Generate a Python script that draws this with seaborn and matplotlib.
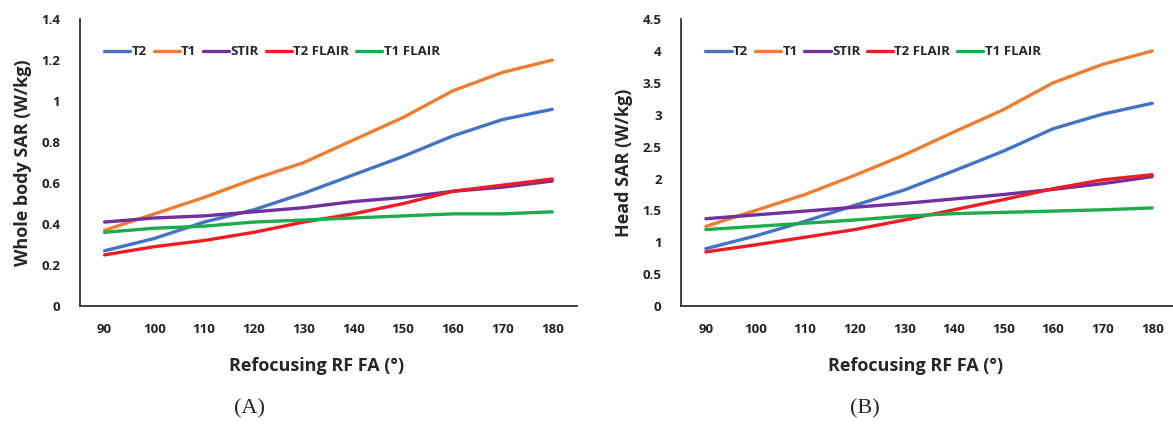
import pandas as pd
import matplotlib.pyplot as plt
import seaborn as sns

# --- 資料 ---
fa = [90, 100, 110, 120, 130, 140, 150, 160, 170, 180]
sequences = ['T2', 'T1', 'STIR', 'T2 FLAIR', 'T1 FLAIR']

wb_t2 = [0.27, 0.33, 0.41, 0.47, 0.55, 0.64, 0.73, 0.83, 0.91, 0.96]
wb_t1 = [0.37, 0.45, 0.53, 0.62, 0.70, 0.81, 0.92, 1.05, 1.14, 1.20]
wb_stir = [0.41, 0.43, 0.44, 0.46, 0.48, 0.51, 0.53, 0.56, 0.58, 0.61]
wb_t2flair = [0.25, 0.29, 0.32, 0.36, 0.41, 0.45, 0.50, 0.56, 0.59, 0.62]
wb_t1flair = [0.36, 0.38, 0.39, 0.41, 0.42, 0.43, 0.44, 0.45, 0.45, 0.46]

head_t2 = [0.90, 1.10, 1.33, 1.58, 1.82, 2.12, 2.43, 2.78, 3.01, 3.18]
head_t1 = [1.25, 1.50, 1.75, 2.05, 2.37, 2.73, 3.08, 3.50, 3.79, 4.00]
head_stir = [1.37, 1.43, 1.49, 1.55, 1.61, 1.68, 1.75, 1.83, 1.92, 2.03]
head_t2flair = [0.85, 0.96, 1.08, 1.20, 1.35, 1.51, 1.67, 1.84, 1.98, 2.06]
head_t1flair = [1.20, 1.25, 1.30, 1.35, 1.41, 1.45, 1.47, 1.49, 1.51, 1.54]

colors = ['#4472C4', '#ED7D31', '#7030A0', '#EE1C25', '#1FAA4B']


def to_long(series_list):
    rows = []
    for name, vals in zip(sequences, series_list):
        for x, v in zip(fa, vals):
            rows.append({'FA': x, 'SAR': v, 'Sequence': name})
    return pd.DataFrame(rows)


df_wb = to_long([wb_t2, wb_t1, wb_stir, wb_t2flair, wb_t1flair])
df_head = to_long([head_t2, head_t1, head_stir, head_t2flair, head_t1flair])

sns.set_style('white')
plt.rcParams['font.family'] = ['Open Sans', 'DejaVu Sans']

fig = plt.figure(figsize=(11.73, 4.24), dpi=100)
ax1 = fig.add_axes([0.068, 0.278, 0.424, 0.677])
ax2 = fig.add_axes([0.5806, 0.278, 0.4194, 0.677])

panels = [
    (ax1, df_wb, 'Whole body SAR (W/kg)', (0, 1.4), [0, 0.2, 0.4, 0.6, 0.8, 1, 1.2, 1.4],
     ['0', '0.2', '0.4', '0.6', '0.8', '1', '1.2', '1.4'], (85, 185), '(A)', 0.213),
    (ax2, df_head, 'Head SAR (W/kg)', (0, 4.5), [0, 0.5, 1, 1.5, 2, 2.5, 3, 3.5, 4, 4.5],
     ['0', '0.5', '1', '1.5', '2', '2.5', '3', '3.5', '4', '4.5'], (85, 184.2), '(B)', 0.737),
]

for ax, df, ylabel, ylim, yticks, yticklabels, xlim, tag, tag_x in panels:
    sns.lineplot(data=df, x='FA', y='SAR', hue='Sequence', hue_order=sequences,
                 palette=colors, linewidth=2.4, ax=ax)
    ax.set_xlim(*xlim)
    ax.set_ylim(*ylim)
    ax.set_xticks(fa)
    ax.set_xticklabels([str(v) for v in fa])
    ax.set_yticks(yticks)
    ax.set_yticklabels(yticklabels)
    ax.tick_params(axis='both', length=0, labelsize=9.5, colors='#222222')
    ax.tick_params(axis='x', pad=12)
    ax.tick_params(axis='y', pad=14)
    for lab in ax.get_xticklabels() + ax.get_yticklabels():
        lab.set_fontweight('bold')
    for side in ['top', 'right']:
        ax.spines[side].set_visible(False)
    for side in ['left', 'bottom']:
        ax.spines[side].set_color('#333333')
        ax.spines[side].set_linewidth(1.3)
    ax.set_ylabel(ylabel, fontsize=13, fontweight='bold', labelpad=7)
    ax.set_xlabel('Refocusing RF FA (°)', fontsize=13, fontweight='bold', labelpad=15)
    ax.xaxis.label.set_x(0.476)
    leg = ax.legend(loc='upper left', bbox_to_anchor=(0.025, 0.95), ncol=5, frameon=False,
                    handlelength=2.0, handletextpad=0.1, columnspacing=0.5,
                    prop={'weight': 'bold', 'size': 9.5})
    for line in leg.get_lines():
        line.set_linewidth(2.4)
    fig.text(tag_x, 0.035, tag, ha='center', va='center',
             fontsize=16, family=['Liberation Serif', 'DejaVu Serif'])

fig.savefig('out.png', dpi=100)
